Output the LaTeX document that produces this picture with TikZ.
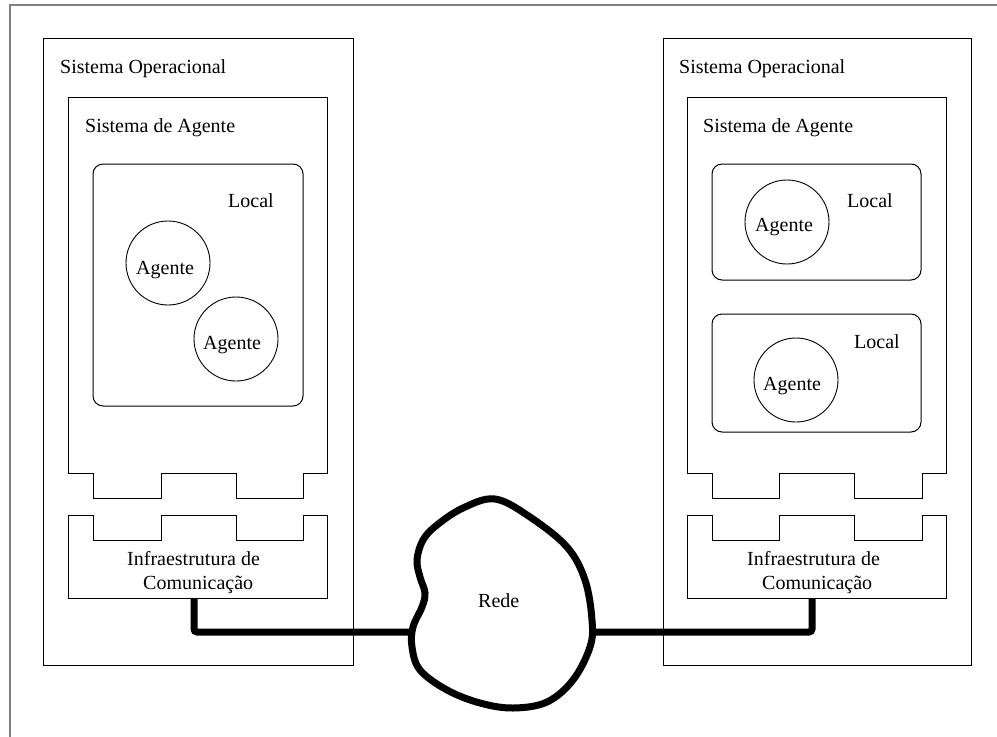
\documentclass[tikz,border=0pt]{standalone}
\usepackage{fontspec}
\setmainfont{Liberation Serif}
\begin{document}
\begin{tikzpicture}[x=1pt,y=-1pt,
  txt/.style={inner sep=0pt,anchor=base west,font=\fontsize{20}{24}\selectfont},
  boxline/.style={draw=black,line width=1pt},
  framel/.style={draw=black!50,line width=2pt},
  localbox/.style={draw=black,line width=1pt,rounded corners=10pt},
  agentcirc/.style={draw=black,line width=0.9pt,circle,minimum size=84pt,inner sep=0pt},
  netline/.style={draw=black,line width=7pt,rounded corners=3pt},
  cloudline/.style={draw=black,fill=white,line width=7pt}]
\useasboundingbox (0,0) rectangle (997,737);
% outer frame (open right/bottom)
\draw[framel] (10,737) -- (10,5) -- (997,5);

% ===== LEFT SIDE =====
\draw[boxline] (43,38) rectangle (353,665);
\node[txt] (lso) at (60,73) {Sistema Operacional};
\draw[boxline] (68,97) -- (327,97) -- (327,473) -- (303,473) -- (303,498) -- (236,498) -- (236,473)
  -- (161,473) -- (161,498) -- (93,498) -- (93,473) -- (68,473) -- cycle;
\node[txt] (lsa) at (85,132) {Sistema de Agente};
\draw[localbox] (93,164) rectangle (303,406);
\node[txt] (lloc) at (228,207) {Local};
\node[agentcirc] (la1) at (168,263) {};
\node[txt] (la1t) at (136,274) {Agente};
\node[agentcirc] (la2) at (236,339) {};
\node[txt] (la2t) at (203,349) {Agente};
\draw[boxline] (68,515) -- (93,515) -- (93,540) -- (161,540) -- (161,515) -- (236,515) -- (236,540)
  -- (303,540) -- (303,515) -- (327,515) -- (327,598) -- (68,598) -- cycle;
\node[txt] (li1) at (127,565) {Infraestrutura de};
\node[txt] (li2) at (143,589) {Comunicação};
\coordinate (lport) at (194,598);

% ===== RIGHT SIDE =====
\draw[boxline] (663,38) rectangle (971,665);
\node[txt] (rso) at (679,73) {Sistema Operacional};
\draw[boxline] (687,97) -- (946,97) -- (946,473) -- (922,473) -- (922,498) -- (854,498) -- (854,473)
  -- (779,473) -- (779,498) -- (712,498) -- (712,473) -- (687,473) -- cycle;
\node[txt] (rsa) at (703,132) {Sistema de Agente};
\draw[localbox] (712,164) rectangle (921,280);
\node[txt] (rloc1) at (847,207) {Local};
\node[agentcirc] (ra1) at (787,222) {};
\node[txt] (ra1t) at (755,231) {Agente};
\draw[localbox] (712,314) rectangle (921,432);
\node[txt] (rloc2) at (854,348) {Local};
\node[agentcirc] (ra2) at (796,380) {};
\node[txt] (ra2t) at (763,390) {Agente};
\draw[boxline] (687,515) -- (712,515) -- (712,540) -- (779,540) -- (779,515) -- (854,515) -- (854,540)
  -- (922,540) -- (922,515) -- (946,515) -- (946,598) -- (687,598) -- cycle;
\node[txt] (ri1) at (747,565) {Infraestrutura de};
\node[txt] (ri2) at (762,589) {Comunicação};
\coordinate (rport) at (812,598);

% ===== NETWORK =====
\coordinate (cl) at (420,632);
\coordinate (cr) at (585,632);
\draw[netline] (lport) |- (cl);
\draw[netline] (rport) |- (cr);
\draw[cloudline] plot[smooth cycle,tension=0.6] coordinates {
  (495,499) (530,517) (567,547) (585,580) (592,620) (590,647) (573,680) (547,702)
  (513,708) (480,703) (447,690) (420,670) (412,647) (413,627) (422,607) (425,593)
  (420,577) (417,560) (423,540) (437,525) (463,508)};
\node[txt] (rede) at (478,607) {Rede};
\end{tikzpicture}
\end{document}
